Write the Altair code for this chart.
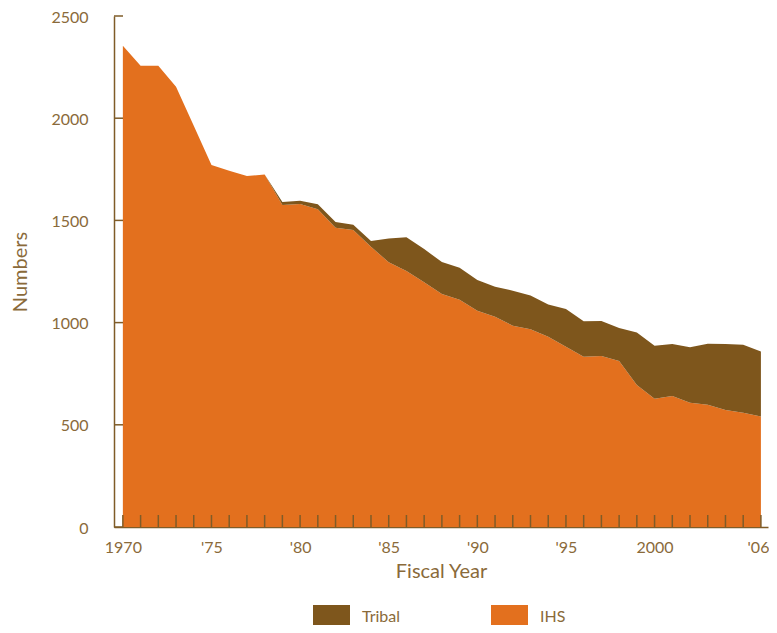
import altair as alt
import pandas as pd

years = list(range(1970, 2007))
ihs = [2355, 2257, 2257, 2154, 1963, 1771, 1743, 1717, 1725, 1575, 1580, 1554,
       1464, 1453, 1371, 1295, 1252, 1197, 1140, 1112, 1058, 1029, 985, 967,
       931, 882, 833, 837, 812, 695, 628, 641, 608, 598, 572, 559, 540]
tribal = [0, 0, 0, 0, 0, 0, 0, 0, 0, 15, 16, 25, 28, 26, 28, 117, 165, 163,
          156, 156, 150, 147, 171, 166, 158, 185, 173, 171, 162, 256, 259, 254,
          271, 299, 323, 333, 319]
series = ["Tribal", "IHS"]
colors = ["#7E561C", "#E3701E"]
y_ticks = [0, 500, 1000, 1500, 2000, 2500]
x_label_years = [1970, 1975, 1980, 1985, 1990, 1995, 2000, 2006]

BROWN = "#7F5C28"
TEXT = "#8A6A3A"
FONT = "Lato"

rows = []
for y, a, b in zip(years, ihs, tribal):
    rows.append({"year": y, "series": "IHS", "lo": 0, "hi": a})
    rows.append({"year": y, "series": "Tribal", "lo": a, "hi": a + b})
df = pd.DataFrame(rows)

xscale = alt.Scale(domain=[1969.5, 2006.4], nice=False, zero=False)
yscale = alt.Scale(domain=[0, 2500], nice=False)

xaxis = alt.Axis(values=x_label_years,
                 labelExpr="(datum.value == 1970 || datum.value == 2000) ? datum.value + '' : \"'\" + substring(datum.value + '', 2, 4)",
                 ticks=False, grid=False, domainColor=BROWN, domainWidth=1.5,
                 labelPadding=12, titlePadding=6, labelFlush=8, labelFlushOffset=8)
yaxis = alt.Axis(values=y_ticks, format="d", ticks=False, grid=False, domainColor=BROWN,
                 domainWidth=1.5, labelPadding=26, titlePadding=20, labelOffset=1)

area = alt.Chart(df).mark_area(opacity=1, interpolate="linear").encode(
    x=alt.X("year:Q", scale=xscale, title="Fiscal Year", axis=xaxis),
    y=alt.Y("hi:Q", scale=yscale, title="Numbers", axis=yaxis),
    y2="lo:Q",
    color=alt.Color("series:N", scale=alt.Scale(domain=series, range=colors),
                    legend=alt.Legend(title=None, orient="none", direction="horizontal",
                                      legendX=199, legendY=582,
                                      symbolType="M-1,-0.64H1V0.64H-1Z",
                                      symbolSize=1369, symbolStrokeWidth=0,
                                      symbolOpacity=1, labelOffset=12,
                                      columnPadding=90)),
    detail="series:N",
)

ytick_df = pd.DataFrame({"v": y_ticks})
yticks = alt.Chart(ytick_df).mark_rule(color=BROWN, strokeWidth=1.5).encode(
    y=alt.Y("v:Q", scale=yscale, title="Numbers", axis=yaxis),
    x=alt.value(0), x2=alt.value(9),
)

xtick_df = pd.DataFrame({"year": years})
xticks = alt.Chart(xtick_df).mark_rule(color=BROWN, strokeWidth=1.5).encode(
    x=alt.X("year:Q", scale=xscale, title="Fiscal Year", axis=xaxis),
    y=alt.value(511), y2=alt.value(499),
)

chart = alt.layer(area, yticks, xticks).properties(
    width=654, height=511,
    padding={"left": 106, "top": 8, "right": 1, "bottom": 98},
    autosize=alt.AutoSizeParams(type="none"),
).configure_view(stroke=None).configure_axis(
    labelFont=FONT, labelFontSize=16, labelColor=TEXT,
    titleFont=FONT, titleFontSize=20, titleFontWeight="normal", titleColor=TEXT,
).configure_legend(
    labelFont=FONT, labelFontSize=16, labelColor=TEXT,
)

chart.save("out.html", embed_options={"renderer": "svg", "actions": False})
